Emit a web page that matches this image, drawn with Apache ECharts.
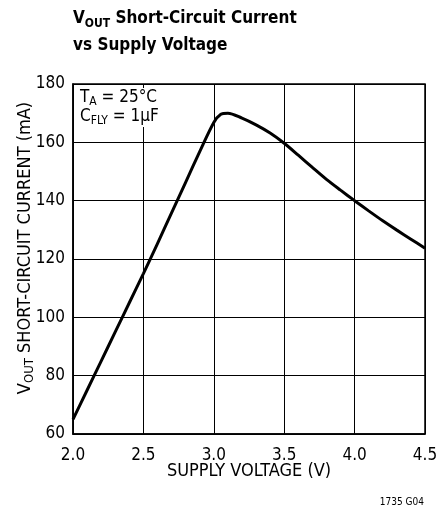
<!DOCTYPE html>
<html>
<head>
<meta charset="utf-8">
<script src="https://cdn.jsdelivr.net/npm/echarts@6/dist/echarts.min.js"></script>
<style>
html,body{margin:0;padding:0;background:#fff;}
#chart{width:438px;height:519px;}
</style>
</head>
<body>
<div id="chart"></div>
<script>
var supplyVoltage = [2.0, 2.1, 2.2, 2.3, 2.4, 2.5, 2.6, 2.7, 2.8, 2.9, 3.0, 3.05, 3.1, 3.2, 3.3, 3.4, 3.5, 3.6, 3.7, 3.8, 3.9, 4.0, 4.1, 4.2, 4.3, 4.4, 4.5];
var shortCircuitCurrent = [65, 75, 85, 95, 105, 115, 125.3, 135.8, 146.3, 156.8, 166.8, 169.6, 170.0, 168.3, 166.0, 163.2, 159.7, 155.6, 151.4, 147.3, 143.6, 140.0, 136.5, 133.1, 129.9, 126.8, 123.7];
var xTicks = [2.0, 2.5, 3.0, 3.5, 4.0, 4.5];
var yTicks = [60, 80, 100, 120, 140, 160, 180];

var FONT = '"Liberation Sans Narrow", "DejaVu Sans Condensed", sans-serif';
var chart = echarts.init(document.getElementById('chart'));
var pts = supplyVoltage.map(function (v, i) { return [v, shortCircuitCurrent[i]]; });
var titleRich = {
  b: { fontFamily: FONT, fontWeight: 'bold', fontSize: 17, color: '#000', lineHeight: 20, verticalAlign: 'top' },
  s: { fontFamily: FONT, fontWeight: 'bold', fontSize: 12, color: '#000', lineHeight: 12, padding: [10, 0, 0, 0], verticalAlign: 'bottom' }
};

chart.setOption({
  animation: false,
  backgroundColor: '#fff',
  title: [
    { left: 73, top: 10, padding: 0, text: '{b|V}{s|OUT}{b| Short-Circuit Current}', textStyle: { rich: titleRich } },
    { left: 73, top: 37, padding: 0, text: '{b|vs Supply Voltage}', textStyle: { rich: titleRich } }
  ],
  grid: { left: 73, right: 13, top: 84, bottom: 85, show: true, borderColor: '#000', borderWidth: 1.5, outerBoundsMode: 'none', containLabel: false },
  xAxis: {
    type: 'value', min: xTicks[0], max: xTicks[xTicks.length - 1], interval: 0.5,
    name: 'SUPPLY VOLTAGE (V)', nameLocation: 'middle', nameGap: 28, nameMoveOverlap: false,
    nameTextStyle: { fontFamily: FONT, fontSize: 18, color: '#000' },
    axisLine: { show: true, lineStyle: { color: '#000', width: 1.5 } },
    axisTick: { show: false },
    axisLabel: { fontFamily: FONT, fontSize: 17, color: '#000', margin: 13, formatter: function (v) { return v.toFixed(1); } },
    splitLine: { show: true, lineStyle: { color: '#000', width: 1 } }
  },
  yAxis: {
    type: 'value', min: yTicks[0], max: yTicks[yTicks.length - 1], interval: 20,
    name: '{n|V}{s|OUT}{n| SHORT-CIRCUIT CURRENT (mA)}', nameLocation: 'middle', nameGap: 37, nameRotate: 90, nameMoveOverlap: false,
    nameTextStyle: {
      padding: [0, 0, 0, 22],
      rich: {
        n: { fontFamily: FONT, fontSize: 18, color: '#000', lineHeight: 20, verticalAlign: 'top' },
        s: { fontFamily: FONT, fontSize: 13, color: '#000', lineHeight: 13, padding: [9, 0, 0, 0], verticalAlign: 'bottom' }
      }
    },
    axisLine: { show: true, lineStyle: { color: '#000', width: 1.5 } },
    axisTick: { show: false },
    axisLabel: { fontFamily: FONT, fontSize: 17, color: '#000', margin: 8 },
    splitLine: { show: true, lineStyle: { color: '#000', width: 1 } }
  },
  graphic: [
    {
      type: 'text', left: 74, top: 88, z: 10,
      style: {
        text: '{n|T}{s|A}{n| = 25°C}\n{n|C}{s|FLY}{n| = 1µF}',
        backgroundColor: '#fff', padding: [1, 6, 0, 6],
        rich: {
          n: { fontFamily: FONT, fontSize: 17, fill: '#000', lineHeight: 19, verticalAlign: 'top' },
          s: { fontFamily: FONT, fontSize: 12, fill: '#000', lineHeight: 12, padding: [8, 0, 0, 0], verticalAlign: 'bottom' }
        }
      }
    },
    {
      type: 'text', right: 14, top: 497,
      style: { text: '1735 G04', fontFamily: FONT, fontSize: 10, fill: '#000' }
    }
  ],
  series: [{
    type: 'line', data: pts, smooth: 0.3, symbol: 'none',
    lineStyle: { color: '#000', width: 3 }, z: 5
  }]
});
</script>
</body>
</html>
